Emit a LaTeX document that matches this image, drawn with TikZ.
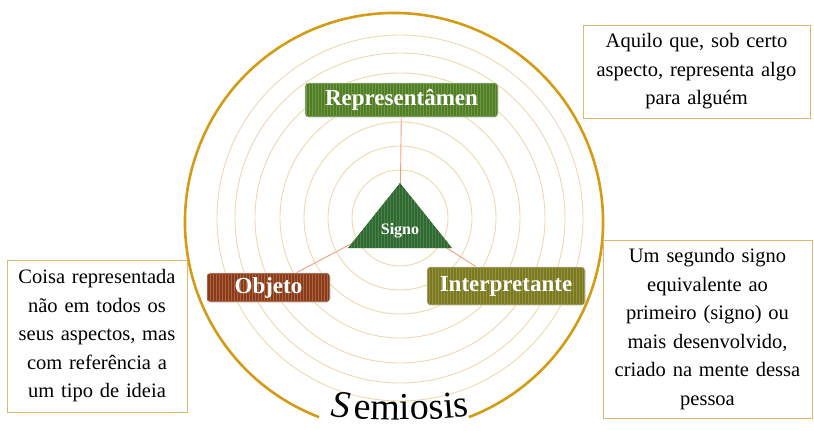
\documentclass[tikz,border=0pt]{standalone}
\usepackage{fontspec}
\setmainfont{Liberation Serif}
\usetikzlibrary{patterns,decorations.text,backgrounds}

\definecolor{ringtan}{HTML}{EFD9AC}
\definecolor{ringgold}{HTML}{D49C14}
\definecolor{linksalmon}{HTML}{F2A07C}
\definecolor{notebrd}{HTML}{E2B672}
\definecolor{reprgreen}{HTML}{4F7F22}
\definecolor{objbrown}{HTML}{8C3B16}
\definecolor{interpolive}{HTML}{7A791D}
\definecolor{signogreen}{HTML}{2E6A2F}

\newcommand{\semfont}{\rmfamily\fontsize{38}{38}\selectfont}

\tikzset{
  labelbox/.style={draw=white!75!gray, line width=0.8pt, rounded corners=3pt,
    text=white, inner sep=0pt, font=\fontsize{23}{23}\selectfont\bfseries},
  stripes/.style={postaction={pattern=vertical lines, pattern color=#1}},
  note/.style={draw=notebrd, line width=0.9pt, fill=white, align=center,
    inner sep=0pt, font=\fontsize{20.5}{28.5}\selectfont},
  link/.style={linksalmon, line width=0.9pt},
}

\begin{document}
\begin{tikzpicture}[x=1pt, y=-1pt]
\useasboundingbox (0,0) rectangle (814,431);
\coordinate (tri) at (400,218);
\coordinate (rim) at (394,222);

% the three correlates
\node[labelbox, fill=reprgreen, stripes=reprgreen!82!white,
      minimum width=193pt, minimum height=34pt] (repr) at (401.5,100) {Representâmen};
\node[labelbox, fill=objbrown, stripes=objbrown!78!white,
      minimum width=123pt, minimum height=29pt] (objeto) at (268.5,287.5) {Objeto};
\node[labelbox, fill=interpolive, stripes=interpolive!82!white,
      minimum width=158pt, minimum height=38pt] (interp) at (506,286) {Interpretante};

% signo
\fill[signogreen, stripes=signogreen!85!white] (400,183) -- (452,248) -- (348,248) -- cycle;
\node[text=white, font=\fontsize{16}{16}\selectfont\bfseries] (signo) at (400,231) {Signo};

\begin{scope}[on background layer]
\foreach \r in {48,72,96,120,145,165,183}{
    \draw[ringtan, line width=0.9pt] (tri) circle (\r);
}
\draw[link] (tri) -- (repr);
\draw[link] (tri) -- (objeto);
\draw[link] (tri) -- (interp);
\end{scope}

\draw[ringgold, line width=2.6pt] (rim) ++(111:209) arc (111:429:209);
\path[decorate, decoration={text along path, text align=center,
      text={|\semfont\itshape|S|\semfont\kern4pt|e|\semfont|miosis}}]
      (290,410) .. controls (360,423) and (440,423) .. (510,410);

% notes
\node[note, minimum width=227pt, minimum height=93pt, text width=220pt] (reprnote)
    at (696.5,71.5) {Aquilo que, sob certo\\aspecto, representa algo\\para alguém};
\node[note, minimum width=180pt, minimum height=152pt, text width=176pt] (objnote)
    at (97,336) {Coisa representada\\não em todos os\\seus aspectos, mas\\com referência a\\um tipo de ideia};
\node[note, minimum width=209pt, minimum height=178pt, text width=205pt] (interpnote)
    at (707.5,329) {Um segundo signo\\equivalente ao\\primeiro (signo) ou\\mais desenvolvido,\\criado na mente dessa\\pessoa};
\end{tikzpicture}
\end{document}
